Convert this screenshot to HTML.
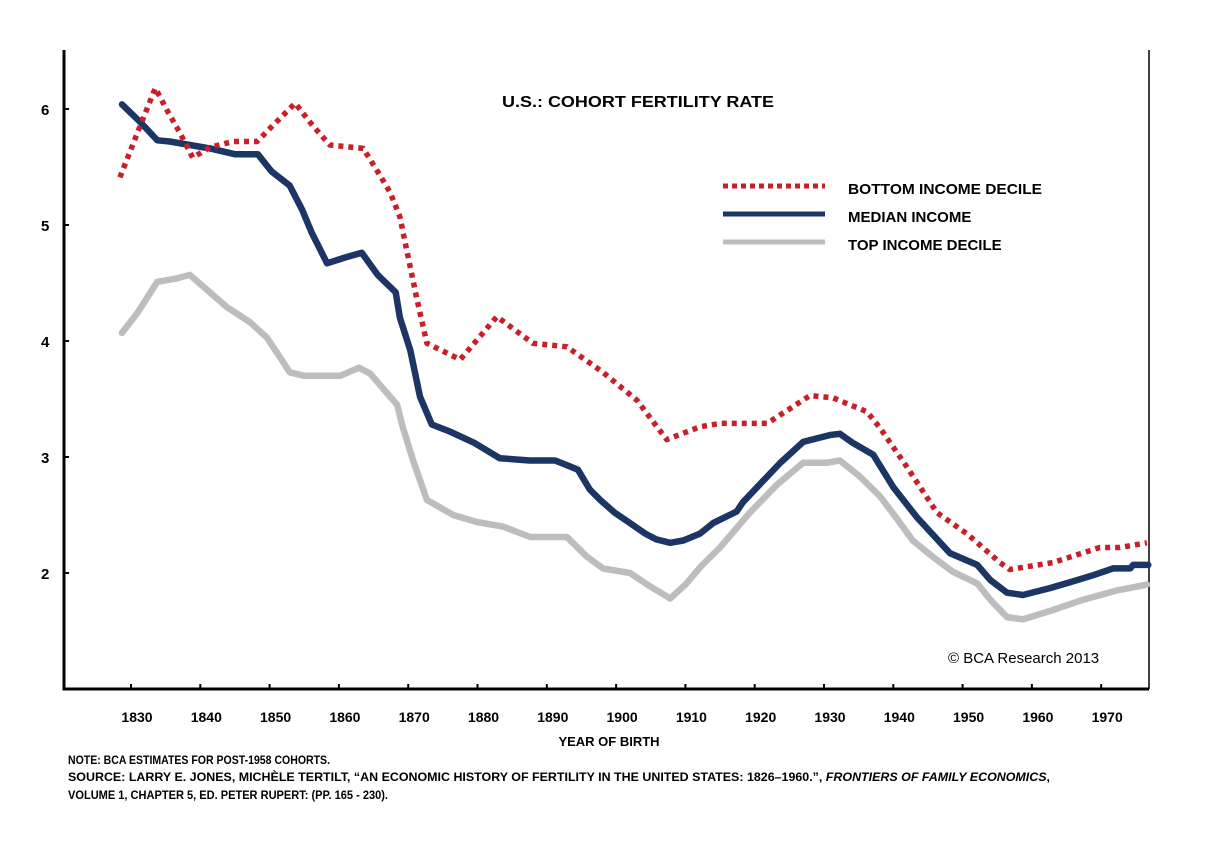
<!DOCTYPE html>
<html><head><meta charset="utf-8"><style>
body{margin:0;background:#fff;width:1214px;height:842px;overflow:hidden}
svg{display:block;font-family:"Liberation Sans",Arial,sans-serif}
</style></head><body>
<svg id="chart" width="1214" height="842" viewBox="0 0 1214 842">
<g id="axes"></g><g id="series"></g>
<text x="502" y="107" font-size="16" font-weight="bold" textLength="272" lengthAdjust="spacingAndGlyphs">U.S.: COHORT FERTILITY RATE</text>
<g>
<line x1="723" y1="186" x2="825" y2="186" stroke="#c8202a" stroke-width="5" stroke-dasharray="5,4"/>
<text x="848" y="194" font-size="15" font-weight="bold" textLength="194" lengthAdjust="spacingAndGlyphs">BOTTOM INCOME DECILE</text>
<line x1="723" y1="214" x2="825" y2="214" stroke="#1b3564" stroke-width="5"/>
<text x="848" y="222" font-size="15" font-weight="bold">MEDIAN INCOME</text>
<line x1="723" y1="242" x2="825" y2="242" stroke="#bdbdbd" stroke-width="5"/>
<text x="848" y="250" font-size="15" font-weight="bold">TOP INCOME DECILE</text>
</g>
<text x="948" y="663" font-size="15">© BCA Research 2013</text>
<text x="609" y="746" font-size="13" font-weight="bold" text-anchor="middle">YEAR OF BIRTH</text>
<g font-size="11.5" font-weight="bold">
<text x="68" y="764" textLength="262" lengthAdjust="spacingAndGlyphs">NOTE: BCA ESTIMATES FOR POST-1958 COHORTS.</text>
<text x="68" y="781" textLength="982" lengthAdjust="spacingAndGlyphs">SOURCE: LARRY E. JONES, MICHÈLE TERTILT, “AN ECONOMIC HISTORY OF FERTILITY IN THE UNITED STATES: 1826–1960.”, <tspan font-style="italic">FRONTIERS OF FAMILY ECONOMICS</tspan>,</text>
<text x="68" y="799" textLength="320" lengthAdjust="spacingAndGlyphs">VOLUME 1, CHAPTER 5, ED. PETER RUPERT: (PP. 165 - 230).</text>
</g>
</svg>
<script>
const yTicks=[2,3,4,5,6];
const xTicks=[1830,1840,1850,1860,1870,1880,1890,1900,1910,1920,1930,1940,1950,1960,1970];
const medYears=[1828.7,1831.3,1833.8,1835.6,1838.5,1841.4,1845,1848.3,1850.3,1852.9,1854.7,1856.1,1858.3,1860.9,1863.3,1865.6,1868.2,1868.8,1870.3,1871.7,1873.4,1876,1879.6,1883.2,1887.5,1891.2,1893.3,1894.5,1896.2,1897.7,1899.8,1902,1904.2,1905.8,1907.8,1909.7,1912.1,1914,1917.4,1918.3,1923.7,1927,1930.9,1932.3,1934.2,1937.1,1940,1943.4,1948.2,1952.1,1954,1956.4,1958.7,1962.6,1965.5,1968.8,1971.7,1974.2,1974.6,1976.8];
const medVals=[6.04,5.89,5.73,5.72,5.69,5.66,5.61,5.61,5.46,5.34,5.13,4.93,4.67,4.72,4.76,4.57,4.42,4.2,3.92,3.52,3.28,3.22,3.12,2.99,2.97,2.97,2.92,2.89,2.72,2.63,2.52,2.43,2.34,2.29,2.26,2.28,2.34,2.43,2.53,2.61,2.95,3.13,3.19,3.2,3.12,3.02,2.74,2.48,2.17,2.07,1.94,1.83,1.81,1.87,1.92,1.98,2.04,2.04,2.07,2.07];
const botYears=[1828.4,1830.9,1833.5,1835.2,1837.1,1838.9,1841.4,1844.7,1848.2,1850.5,1853.7,1856.3,1858.7,1863.5,1865.5,1867.4,1868.8,1869.8,1871.3,1872.7,1877.5,1882.8,1888,1892.9,1898.1,1903,1907.3,1912.1,1915,1921.8,1928,1931.3,1936.2,1938.1,1942,1946.3,1950.6,1955.4,1956.8,1963,1969.8,1972.7,1976.6];
const botVals=[5.41,5.79,6.18,5.99,5.79,5.58,5.67,5.72,5.72,5.86,6.05,5.85,5.69,5.66,5.47,5.28,5.07,4.78,4.35,3.98,3.84,4.21,3.98,3.95,3.73,3.49,3.15,3.26,3.29,3.29,3.53,3.51,3.39,3.25,2.91,2.52,2.34,2.09,2.03,2.09,2.22,2.22,2.26];
const topYears=[1828.7,1830.9,1833.8,1836.6,1838.5,1841,1843.9,1847.2,1849.6,1851.5,1852.9,1855,1860.2,1862.9,1864.5,1868.4,1869.2,1870.7,1872.7,1876.5,1879.9,1883.7,1887.6,1892.9,1895.8,1898.1,1902,1904.5,1907.8,1910,1912.3,1915,1919.3,1923.2,1927,1930.4,1932.3,1935.2,1938.1,1940.5,1942.8,1945.7,1948.6,1952.1,1954,1956.4,1958.7,1963,1967.4,1972.3,1976.6];
const topVals=[4.07,4.24,4.51,4.54,4.57,4.44,4.29,4.16,4.03,3.86,3.73,3.7,3.7,3.77,3.72,3.45,3.26,2.97,2.63,2.5,2.44,2.4,2.31,2.31,2.14,2.04,2.0,1.9,1.78,1.9,2.06,2.22,2.52,2.76,2.95,2.95,2.97,2.83,2.66,2.47,2.28,2.14,2.01,1.91,1.77,1.62,1.6,1.68,1.77,1.85,1.9];
const NS='http://www.w3.org/2000/svg';
const X0=64,X1=1149,Y0=50,Y1=689;
function xs(yr){return 131+(yr-1830)*6.93;}
function ys(v){return 573-(v-2)*116;}
const axes=document.getElementById('axes'),series=document.getElementById('series');
function mk(tag,attrs,parent){const e=document.createElementNS(NS,tag);for(const k in attrs)e.setAttribute(k,attrs[k]);parent.appendChild(e);return e;}
let e=mk('path',{d:`M${X0},${Y0}V${Y1}H${X1}`,fill:'none',stroke:'#000','stroke-width':3},axes);


e=mk('line',{x1:X1,y1:Y0,x2:X1,y2:Y1,stroke:'#000','stroke-width':1.5},axes);


yTicks.forEach(v=>{
 let t=mk('line',{x1:X0,x2:X0+5,y1:ys(v),y2:ys(v),stroke:'#000','stroke-width':2},axes);
 
 
 let l=mk('text',{x:41,y:ys(v)+6,'font-size':15,'font-weight':'bold'},axes);l.textContent=v;
 
 
});
xTicks.forEach(yr=>{
 let t=mk('line',{x1:xs(yr),x2:xs(yr),y1:Y1,y2:Y1-5,stroke:'#000','stroke-width':2},axes);
 
 
 let l=mk('text',{x:xs(yr)+6,y:722,'font-size':14,'font-weight':'bold','text-anchor':'middle'},axes);l.textContent=yr;
 
 
});
function line(years,vals,attrs,name){
 const d=years.map((yr,i)=>(i?'L':'M')+xs(yr).toFixed(1)+','+ys(vals[i]).toFixed(1)).join('');
 const p=mk('path',Object.assign({d:d,fill:'none','stroke-linejoin':'round'},attrs),series);
 
 
}
line(topYears,topVals,{stroke:'#bdbdbd','stroke-width':6.5,'stroke-linecap':'round'},'top-decile-line');
line(medYears,medVals,{stroke:'#1b3564','stroke-width':6.5,'stroke-linecap':'round'},'median-income-line');
line(botYears,botVals,{stroke:'#c8202a','stroke-width':5.5,'stroke-dasharray':'5,5'},'bottom-decile-line');
</script>
</body></html>
